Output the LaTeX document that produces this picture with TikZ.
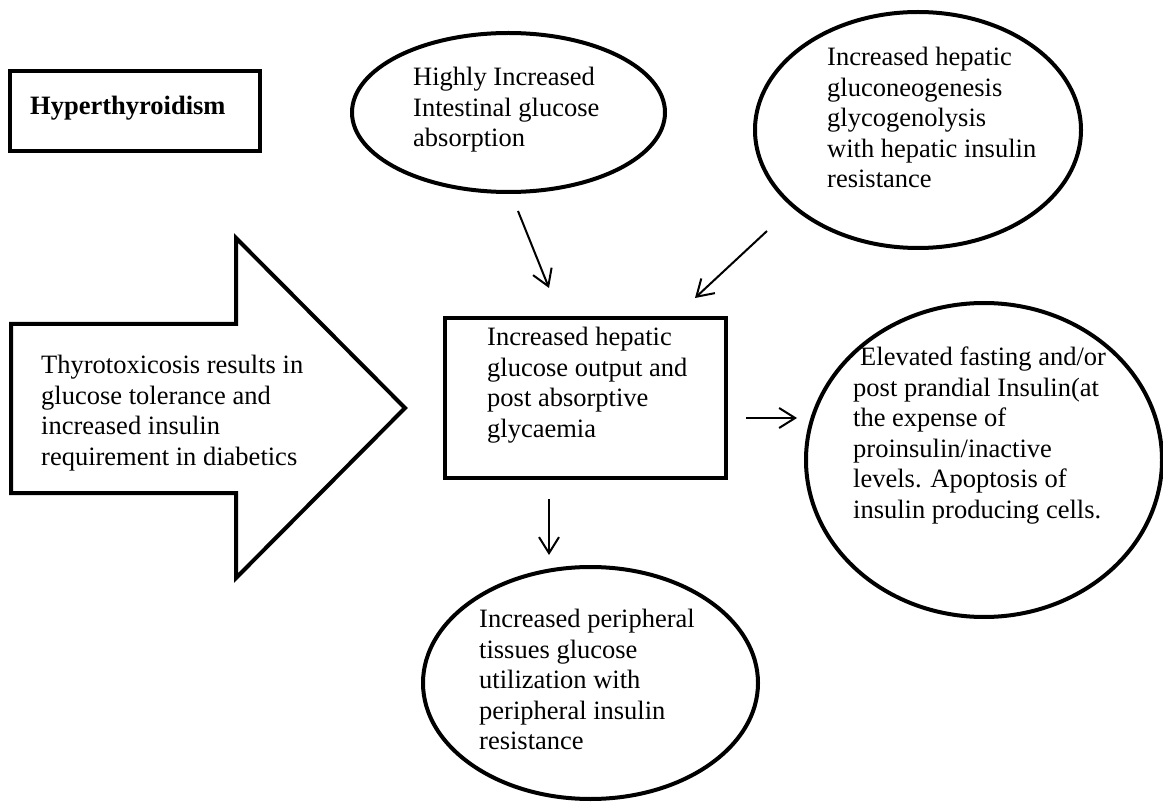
\documentclass[tikz,border=0pt]{standalone}
\usepackage{fontspec}
\setmainfont{Liberation Serif}
\usetikzlibrary{shapes.geometric,arrows.meta}
\begin{document}
\begin{tikzpicture}[x=1pt,y=-1pt,
  shapeline/.style={draw=black,line width=4pt},
  oval/.style={shapeline,ellipse,inner sep=0pt},
  txt/.style={anchor=north west,inner sep=0pt,align=left,font=\fontsize{26.5}{30.5}\selectfont},
  conn/.style={line width=2pt,-{Straight Barb[length=16pt,width=20pt]}}]
\fill[white] (0,0) rectangle (1163,802);
\useasboundingbox (0,0) rectangle (1163,802);

% Hyperthyroidism box
\node[shapeline,rectangle,minimum width=250pt,minimum height=80pt] (hyperbox) at (135,111) {};
\node[anchor=base west,inner sep=0pt,font=\fontsize{26.5}{30.5}\selectfont\bfseries] (hypertext) at (30,115) {Hyperthyroidism};

% Block arrow
\draw[shapeline,line join=miter] (11,324) -- (236,324) -- (236,238) -- (405,408) -- (236,578) -- (236,493) -- (11,493) -- cycle;
\node[txt] (thyro) at (41,355) {Thyrotoxicosis results in\\glucose tolerance and\\increased insulin\\requirement in diabetics};

% Ellipse 1
\node[oval,minimum width=313pt,minimum height=159pt] (absorb) at (508.5,112.5) {};
\node[txt] (absorbtext) at (413,67) {Highly Increased\\Intestinal glucose\\absorption};

% Ellipse 2
\node[oval,minimum width=326pt,minimum height=236pt] (hepatic) at (918,130) {};
\node[txt] (hepatictext) at (827,47) {Increased hepatic\\gluconeogenesis\\glycogenolysis\\with hepatic insulin\\resistance};

% Central box
\node[shapeline,rectangle,minimum width=281pt,minimum height=160pt] (output) at (585.5,398) {};
\node[txt] (outputtext) at (487,327) {Increased hepatic\\glucose output and\\post absorptive\\glycaemia};

% Ellipse 3
\node[oval,minimum width=356pt,minimum height=314pt] (insulin) at (984,460) {};
\node[txt] (insulintext) at (853,347) {\hspace*{7pt}Elevated fasting and/or\\post prandial Insulin(at\\the expense of\\proinsulin/inactive\\levels. Apoptosis of\\insulin producing cells.};

% Ellipse 4
\node[oval,minimum width=335pt,minimum height=232pt] (periph) at (590.5,683) {};
\node[txt] (periphtext) at (479,609) {Increased peripheral\\tissues glucose\\utilization with\\peripheral insulin\\resistance};

% connector end points
\coordinate (a1s) at (518,211); \coordinate (a1e) at (549,288);
\coordinate (a2s) at (767,231); \coordinate (a2e) at (695,298);
\coordinate (a3s) at (746,418); \coordinate (a3e) at (797,418);
\coordinate (a4s) at (549,499); \coordinate (a4e) at (549,555);

\draw[conn] (a1s) -- (a1e);
\draw[conn] (a2s) -- (a2e);
\draw[conn] (a3s) -- (a3e);
\draw[conn] (a4s) -- (a4e);
\end{tikzpicture}
\end{document}
